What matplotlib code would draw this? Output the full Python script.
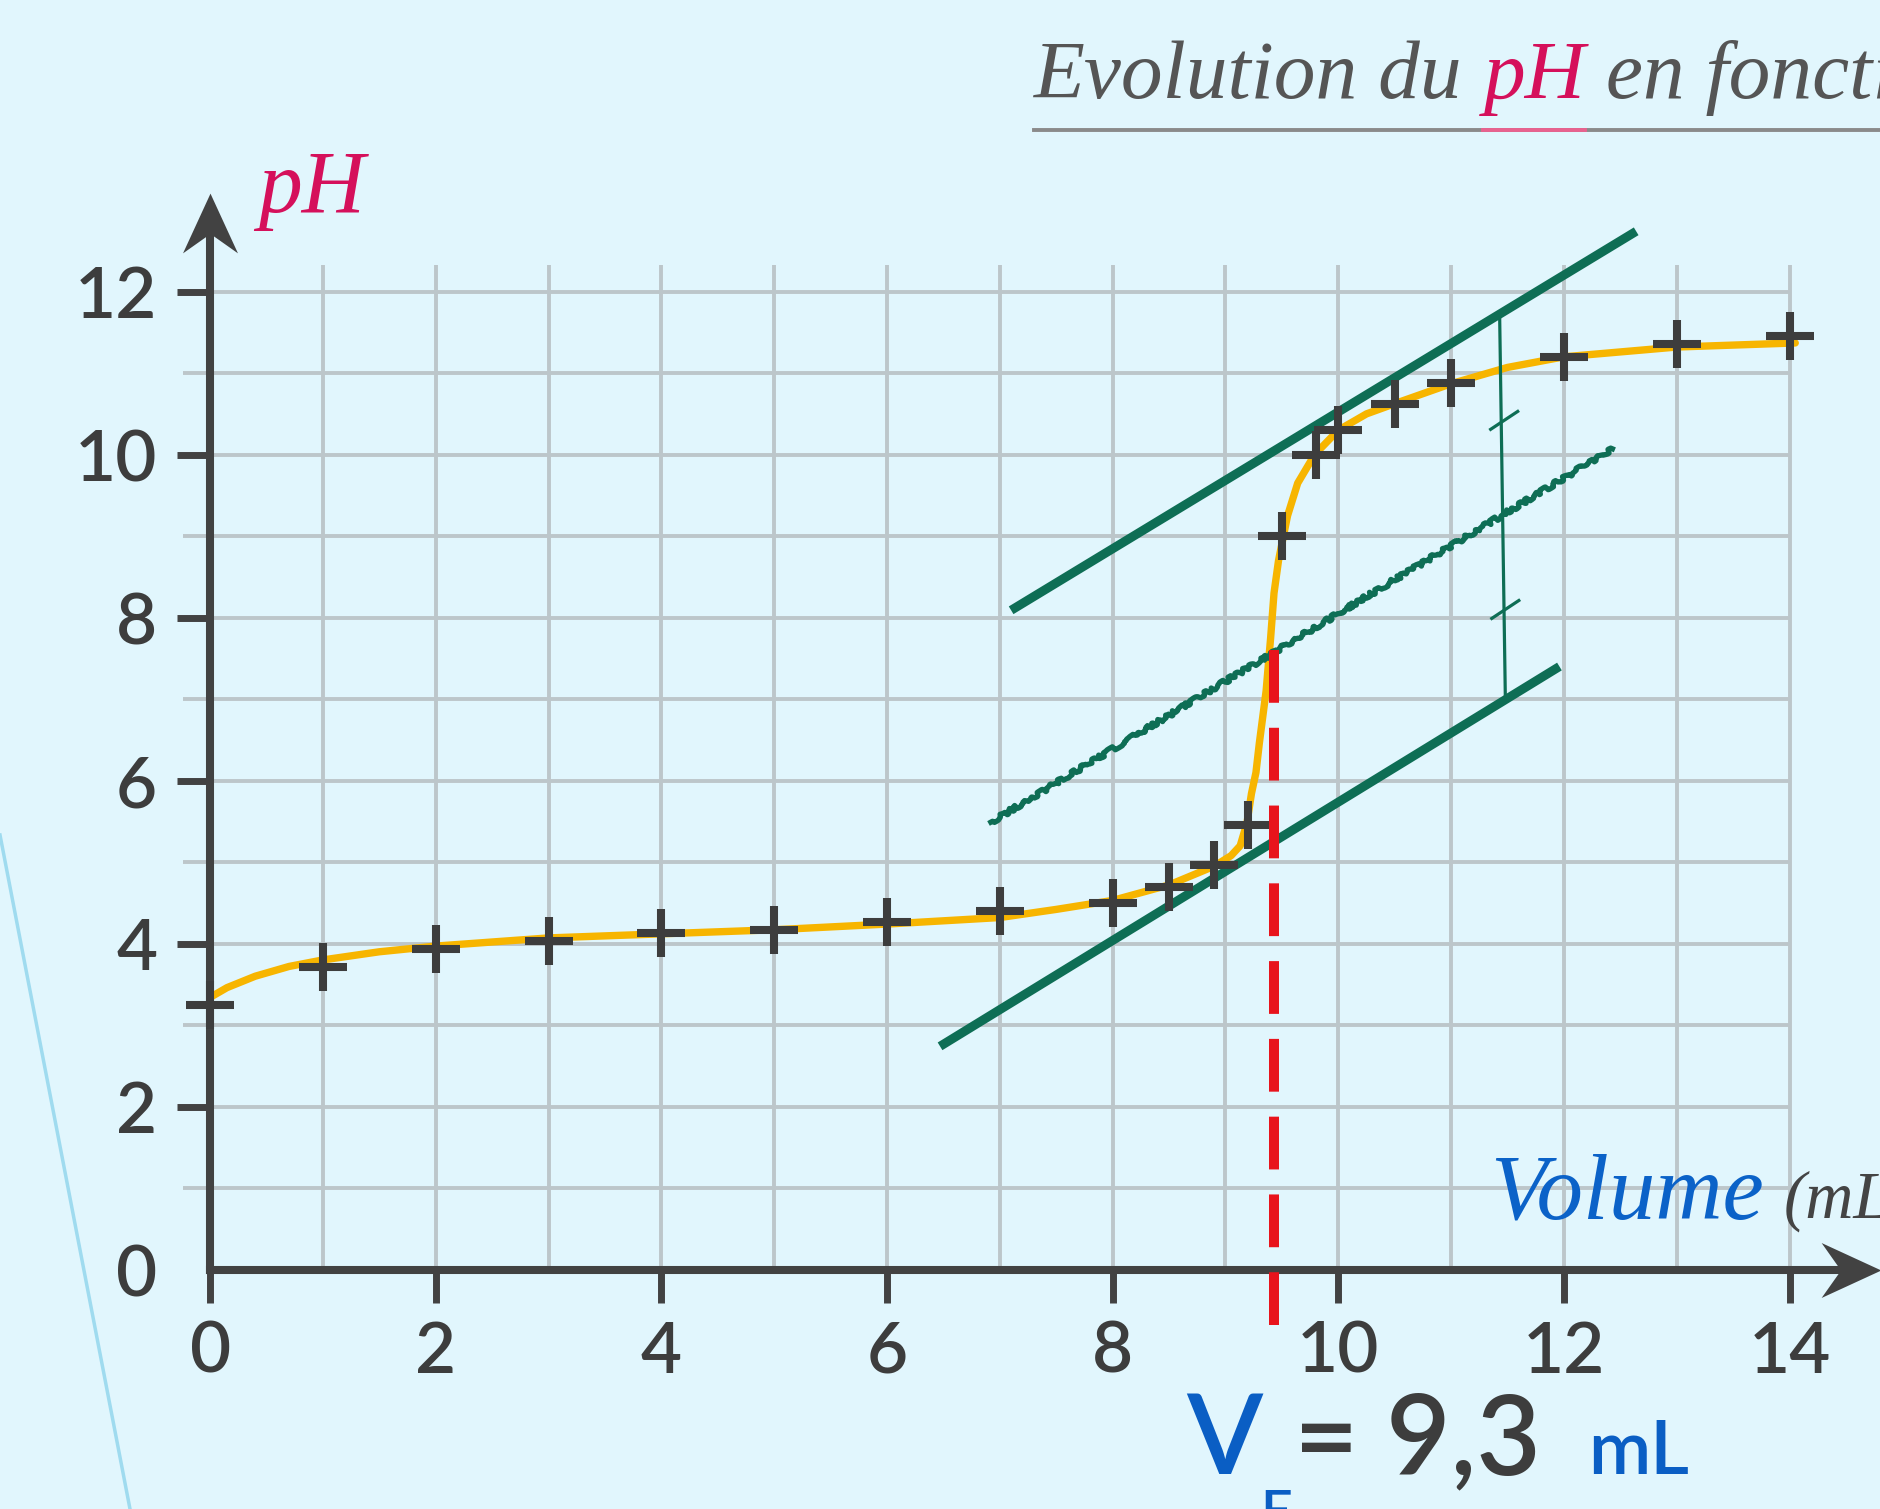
import matplotlib.pyplot as plt
from matplotlib.path import Path
from matplotlib.patches import Polygon
from matplotlib.lines import Line2D

plt.rcParams['font.family'] = ['Lato', 'DejaVu Sans']
plt.rcParams['lines.scale_dashes'] = False

W, H = 1881, 1509

# titration measurements (volume in mL, pH)
volume_pts = [0, 1, 2, 3, 4, 5, 6, 7, 8, 8.5, 8.9, 9.2, 9.5, 9.8, 10, 10.5, 11, 12, 13, 14]
ph_pts = [3.25, 3.71, 3.94, 4.03, 4.13, 4.17, 4.26, 4.40, 4.50, 4.70, 4.97, 5.46,
          9.0, 10.0, 10.3, 10.62, 10.88, 11.2, 11.36, 11.46]

# hand-drawn curve, read along its path
curve_v = [0, 0.15, 0.4, 0.7, 1, 1.5, 2, 3, 4, 5, 6, 7, 7.5, 8, 8.5, 8.9, 9.05, 9.13,
           9.19, 9.23, 9.27, 9.30, 9.36, 9.40, 9.43, 9.47, 9.55, 9.64, 9.79, 10.0,
           10.25, 10.55, 11.0, 11.5, 12, 13, 14.05]
curve_ph = [3.34, 3.46, 3.60, 3.72, 3.80, 3.90, 3.97, 4.07, 4.12, 4.17, 4.24, 4.32, 4.42,
            4.53, 4.72, 4.95, 5.08, 5.20, 5.48, 5.84, 6.10, 6.46, 7.10, 7.75, 8.30, 8.70,
            9.25, 9.65, 10.0, 10.3, 10.5, 10.65, 10.87, 11.07, 11.2, 11.32, 11.37]

# tangent method construction
tangent_high_v, tangent_high_ph = [7.10, 12.64], [8.09, 12.74]
tangent_low_v, tangent_low_ph = [6.47, 11.96], [2.74, 7.40]
middle_v, middle_ph = [6.92, 12.43], [5.49, 10.07]
gap_v, gap_ph = [11.43, 11.48], [11.70, 7.05]
marks_v, marks_ph = [11.47, 11.48], [10.42, 8.10]
ve_drawn, ve_top, ve_bottom = 9.43, 7.6, -0.86

xticks = [0, 2, 4, 6, 8, 10, 12, 14]
yticks = [0, 2, 4, 6, 8, 10, 12]

axis_col = '#424242'
green = '#0e6e55'
bg = '#e1f6fd'


def fx(x):
    return x / W


def fy(y):
    return 1 - y / H


fig = plt.figure(figsize=(W / 100, H / 100), dpi=100, facecolor=bg)
ax = fig.add_axes([0, 0, 1, 1], facecolor=bg)
ax.set_xlim(-1.862, 14.81)
ax.set_ylim(-2.937, 15.578)

# paler band on the left edge
fig.add_artist(Polygon([(0, fy(835)), (fx(130), 0), (0, 0)], closed=True,
                       transform=fig.transFigure, facecolor='#f3fbfe',
                       edgecolor='none', zorder=0))
fig.add_artist(Line2D([0, fx(130)], [fy(835), 0], transform=fig.transFigure,
                      color='#9fdbef', lw=2.5, zorder=0.5))

# grid
ax.hlines(range(1, 13), -0.24, 14, color='#bcc6ca', lw=2.8, zorder=1)
ax.vlines(range(1, 15), 0, 12.33, color='#bcc6ca', lw=2.8, zorder=1)

# axes with arrows
for side in ['top', 'right']:
    ax.spines[side].set_visible(False)
ax.spines['left'].set_position(('data', 0))
ax.spines['bottom'].set_position(('data', 0))
ax.spines['left'].set_bounds(0, 12.9)
ax.spines['bottom'].set_bounds(0, 14.6)
for side in ['left', 'bottom']:
    ax.spines[side].set_color(axis_col)
    ax.spines[side].set_linewidth(5.8)
    ax.spines[side].set_zorder(2)

arrow_x = Path([(1, 0), (-1, 0.92), (-0.35, 0), (-1, -0.92), (1, 0)],
               [Path.MOVETO, Path.LINETO, Path.LINETO, Path.LINETO, Path.CLOSEPOLY])
arrow_y = Path([(0, 1), (0.92, -1), (0, -0.35), (-0.92, -1), (0, 1)],
               [Path.MOVETO, Path.LINETO, Path.LINETO, Path.LINETO, Path.CLOSEPOLY])
ax.plot(14.54, 0, marker=arrow_x, ms=43, color=axis_col, mew=0, zorder=2, clip_on=False)
ax.plot(0, 12.84, marker=arrow_y, ms=43, color=axis_col, mew=0, zorder=2, clip_on=False)

ax.set_xticks(xticks)
ax.set_yticks(yticks)
ax.tick_params(axis='both', direction='out', length=24, width=5, color=axis_col,
               labelsize=51, labelcolor='#3d3d3d')
ax.tick_params(axis='x', pad=12)
ax.tick_params(axis='y', pad=14)
for lab in ax.get_xticklabels() + ax.get_yticklabels():
    lab.set_fontweight('semibold')
ax.yaxis.get_major_ticks()[0].tick1line.set_visible(False)

# titration curve and points
ax.plot(curve_v, curve_ph, color='#f7b500', lw=5.3, solid_joinstyle='round',
        solid_capstyle='round', zorder=3)

ax.plot(tangent_high_v, tangent_high_ph, color=green, lw=6.5, zorder=4,
        solid_capstyle='butt')
ax.plot(tangent_low_v, tangent_low_ph, color=green, lw=6.5, zorder=4,
        solid_capstyle='butt')
mid, = ax.plot(middle_v, middle_ph, color=green, lw=3.8, zorder=4)
mid.set_sketch_params(scale=2.2, length=30, randomness=15)
ax.plot(gap_v, gap_ph, color=green, lw=2.3, zorder=4)
for mv, mp in zip(marks_v, marks_ph):
    ax.plot([mv - 0.12, mv + 0.12], [mp - 0.11, mp + 0.11], color=green, lw=2.3, zorder=4)

ax.plot(volume_pts, ph_pts, linestyle='none', marker='+', ms=34, mew=5.8,
        color='#3d3d3d', zorder=5)

ax.plot([ve_drawn, ve_drawn], [ve_top, ve_bottom], color='#e8141c', lw=7.2,
        linestyle=(0, (38, 18)), dash_capstyle='butt', zorder=6, clip_on=False)

# labels
fig.text(fx(258), fy(212), 'pH', fontsize=63, family='Liberation Serif',
         style='italic', color='#d5105b', va='baseline')

fig.text(fx(1490), fy(1218), 'Volume', fontsize=67, family='Liberation Serif',
         style='italic', color='#0b62c8', va='baseline')
fig.text(fx(1784), fy(1218), '(mL)', fontsize=48, family='Liberation Serif',
         style='italic', color='#444444', va='baseline')

t1 = fig.text(fx(1034), fy(98), 'Evolution du ', fontsize=60, family='Liberation Serif',
              style='italic', color='#555555', va='baseline')
t2 = ax.annotate('pH', xycoords=t1, xy=(1, 0), va='bottom', fontsize=60,
                 family='Liberation Serif', style='italic', color='#d5105b')
ax.annotate(' en fonction du volume', xycoords=t2, xy=(1, 0), va='bottom', fontsize=60,
            family='Liberation Serif', style='italic', color='#555555')

fig.canvas.draw()
r = fig.canvas.get_renderer()
bb = t2.get_window_extent(r).transformed(fig.transFigure.inverted())
fig.add_artist(Line2D([fx(1034), 1], [fy(130), fy(130)], transform=fig.transFigure,
                      color='#8a8a8a', lw=2.8))
fig.add_artist(Line2D([bb.x0, bb.x1], [fy(130), fy(130)], transform=fig.transFigure,
                      color='#e8628f', lw=2.8))

fig.text(fx(1186), fy(1474), 'V', fontsize=80, weight='semibold', color='#0a5ec4',
         va='baseline')
fig.text(fx(1260), fy(1530), 'E', fontsize=40, weight='semibold', color='#0a5ec4',
         va='baseline')
fig.text(fx(1294), fy(1474), '= 9,3', fontsize=80, weight='semibold', color='#3d3d3d',
         va='baseline')
fig.text(fx(1588), fy(1474), 'mL', fontsize=54, weight='semibold', color='#0a5ec4',
         va='baseline')

fig.savefig('out.png', dpi=100, facecolor=bg)
